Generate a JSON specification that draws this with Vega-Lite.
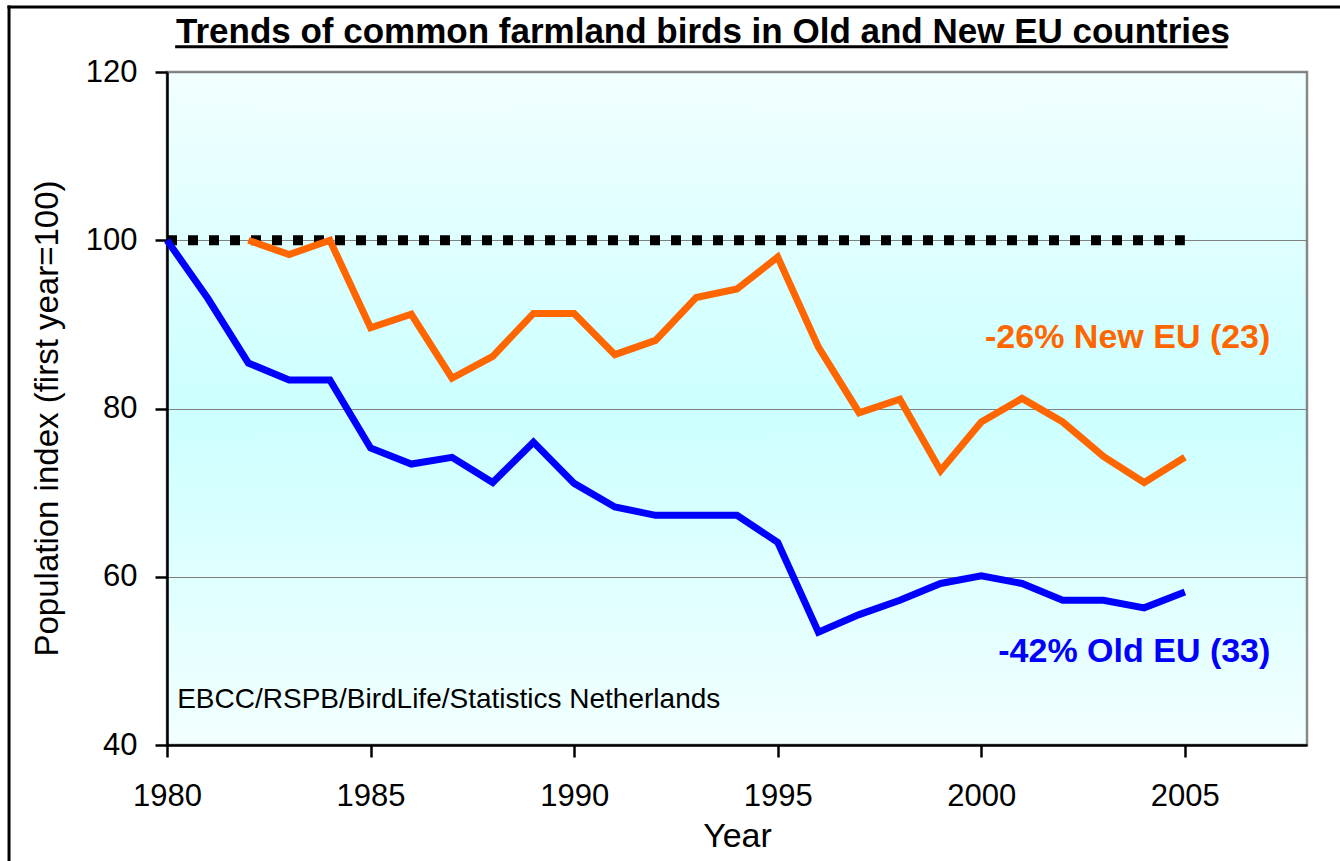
{
  "$schema": "https://vega.github.io/schema/vega-lite/v6.json",
  "width": 1140,
  "height": 673,
  "autosize": {"type": "none"},
  "padding": {"left": 167, "top": 72, "right": 33, "bottom": 116},
  "background": "white",
  "config": {
    "font": "Liberation Sans",
    "view": {"stroke": "#888888", "strokeWidth": 2.5}
  },
  "view": {
    "fill": {
      "gradient": "linear", "x1": 0, "y1": 0, "x2": 0, "y2": 1,
      "stops": [
        {"offset": 0, "color": "#F2FFFF"},
        {"offset": 0.5, "color": "#CCFFFF"},
        {"offset": 1, "color": "#F2FFFF"}
      ]
    },
    "stroke": "#888888",
    "strokeWidth": 2.5
  },
  "title": {
    "text": "Trends of common farmland birds in Old and New EU countries",
    "fontSize": 35,
    "fontWeight": "bold",
    "color": "black",
    "anchor": "middle",
    "dx": -34,
    "offset": -45.5
  },
  "datasets": {
    "birds": [
      {"year": 1980, "index": 100, "series": "Old EU"},
      {"year": 1981, "index": 93.1, "series": "Old EU"},
      {"year": 1982, "index": 85.4, "series": "Old EU"},
      {"year": 1983, "index": 83.4, "series": "Old EU"},
      {"year": 1984, "index": 83.4, "series": "Old EU"},
      {"year": 1985, "index": 75.3, "series": "Old EU"},
      {"year": 1986, "index": 73.4, "series": "Old EU"},
      {"year": 1987, "index": 74.2, "series": "Old EU"},
      {"year": 1988, "index": 71.2, "series": "Old EU"},
      {"year": 1989, "index": 76.0, "series": "Old EU"},
      {"year": 1990, "index": 71.1, "series": "Old EU"},
      {"year": 1991, "index": 68.3, "series": "Old EU"},
      {"year": 1992, "index": 67.3, "series": "Old EU"},
      {"year": 1993, "index": 67.3, "series": "Old EU"},
      {"year": 1994, "index": 67.3, "series": "Old EU"},
      {"year": 1995, "index": 64.1, "series": "Old EU"},
      {"year": 1996, "index": 53.4, "series": "Old EU"},
      {"year": 1997, "index": 55.5, "series": "Old EU"},
      {"year": 1998, "index": 57.2, "series": "Old EU"},
      {"year": 1999, "index": 59.2, "series": "Old EU"},
      {"year": 2000, "index": 60.1, "series": "Old EU"},
      {"year": 2001, "index": 59.2, "series": "Old EU"},
      {"year": 2002, "index": 57.2, "series": "Old EU"},
      {"year": 2003, "index": 57.2, "series": "Old EU"},
      {"year": 2004, "index": 56.3, "series": "Old EU"},
      {"year": 2005, "index": 58.2, "series": "Old EU"},
      {"year": 1982, "index": 100, "series": "New EU"},
      {"year": 1983, "index": 98.3, "series": "New EU"},
      {"year": 1984, "index": 100, "series": "New EU"},
      {"year": 1985, "index": 89.6, "series": "New EU"},
      {"year": 1986, "index": 91.2, "series": "New EU"},
      {"year": 1987, "index": 83.6, "series": "New EU"},
      {"year": 1988, "index": 86.2, "series": "New EU"},
      {"year": 1989, "index": 91.3, "series": "New EU"},
      {"year": 1990, "index": 91.3, "series": "New EU"},
      {"year": 1991, "index": 86.4, "series": "New EU"},
      {"year": 1992, "index": 88.1, "series": "New EU"},
      {"year": 1993, "index": 93.2, "series": "New EU"},
      {"year": 1994, "index": 94.2, "series": "New EU"},
      {"year": 1995, "index": 98.0, "series": "New EU"},
      {"year": 1996, "index": 87.3, "series": "New EU"},
      {"year": 1997, "index": 79.5, "series": "New EU"},
      {"year": 1998, "index": 81.1, "series": "New EU"},
      {"year": 1999, "index": 72.6, "series": "New EU"},
      {"year": 2000, "index": 78.4, "series": "New EU"},
      {"year": 2001, "index": 81.2, "series": "New EU"},
      {"year": 2002, "index": 78.4, "series": "New EU"},
      {"year": 2003, "index": 74.3, "series": "New EU"},
      {"year": 2004, "index": 71.2, "series": "New EU"},
      {"year": 2005, "index": 74.2, "series": "New EU"}
    ],
    "single": [{}]
  },
  "layer": [
    {
      "data": {"name": "single"},
      "mark": {"type": "rule", "color": "black", "strokeWidth": 10, "strokeDash": [10, 11], "strokeCap": "butt"},
      "encoding": {
        "x": {"datum": 1980, "type": "quantitative"},
        "x2": {"datum": 2005},
        "y": {"datum": 100, "type": "quantitative"}
      }
    },
    {
      "data": {"name": "birds"},
      "mark": {"type": "line", "strokeWidth": 7, "strokeJoin": "miter", "strokeCap": "butt"},
      "encoding": {
        "x": {
          "field": "year", "type": "quantitative",
          "scale": {"domain": [1980, 2008], "nice": false, "zero": false},
          "axis": {
            "title": "Year", "values": [1980, 1985, 1990, 1995, 2000, 2005], "format": "d",
            "grid": false, "labelFontSize": 31, "labelColor": "black", "labelPadding": 24,
            "labelFlush": false,
            "tickSize": 12, "tickColor": "black", "tickWidth": 2.5,
            "domainColor": "black", "domainWidth": 2.5,
            "titleFontSize": 34, "titleFontWeight": "normal", "titleColor": "black", "titlePadding": 8
          }
        },
        "y": {
          "field": "index", "type": "quantitative",
          "scale": {"domain": [40, 120], "nice": false, "zero": false},
          "axis": {
            "title": "Population index (first year=100)", "values": [40, 60, 80, 100, 120],
            "grid": true, "gridColor": "#808080", "gridWidth": 1,
            "labelFontSize": 31, "labelColor": "black", "labelPadding": 18,
            "labelFlush": false,
            "tickSize": 12, "tickColor": "black", "tickWidth": 2.5,
            "domainColor": "black", "domainWidth": 2.5,
            "titleFontSize": 33, "titleFontWeight": "normal", "titleColor": "black", "titlePadding": 21,
            "titleY": 346
          }
        },
        "color": {
          "field": "series", "type": "nominal",
          "scale": {"domain": ["Old EU", "New EU"], "range": ["#0000FF", "#FF6600"]},
          "legend": null
        },
        "detail": {"field": "series"}
      }
    },
    {
      "data": {"name": "single"},
      "mark": {"type": "text", "align": "right", "baseline": "middle", "fontSize": 34, "fontWeight": "bold", "color": "#FF6600"},
      "encoding": {
        "x": {"datum": 2007.1, "type": "quantitative"},
        "y": {"datum": 88.4, "type": "quantitative"},
        "text": {"value": "-26% New  EU (23)"}
      }
    },
    {
      "data": {"name": "single"},
      "mark": {"type": "text", "align": "right", "baseline": "middle", "fontSize": 34, "fontWeight": "bold", "color": "#0000FF"},
      "encoding": {
        "x": {"datum": 2007.1, "type": "quantitative"},
        "y": {"datum": 51.0, "type": "quantitative"},
        "text": {"value": "-42% Old EU (33)"}
      }
    },
    {
      "data": {"name": "single"},
      "mark": {"type": "text", "align": "left", "baseline": "middle", "fontSize": 28, "color": "black"},
      "encoding": {
        "x": {"datum": 1980.25, "type": "quantitative"},
        "y": {"datum": 45.3, "type": "quantitative"},
        "text": {"value": "EBCC/RSPB/BirdLife/Statistics Netherlands"}
      }
    },
    {
      "data": {"name": "single"},
      "mark": {"type": "rule", "color": "black", "strokeWidth": 3, "clip": false},
      "encoding": {
        "x": {"datum": 1980.2, "type": "quantitative"},
        "x2": {"datum": 2006.05},
        "y": {"datum": 123.0, "type": "quantitative"}
      }
    },
    {
      "data": {"name": "single"},
      "mark": {"type": "rule", "color": "black", "strokeWidth": 3, "clip": false},
      "encoding": {
        "x": {"datum": 1976.08, "type": "quantitative"},
        "x2": {"datum": 2010},
        "y": {"datum": 127.73, "type": "quantitative"}
      }
    },
    {
      "data": {"name": "single"},
      "mark": {"type": "rule", "color": "black", "strokeWidth": 3, "clip": false},
      "encoding": {
        "x": {"datum": 1976.12, "type": "quantitative"},
        "y": {"datum": 127.9, "type": "quantitative"},
        "y2": {"datum": 24}
      }
    }
  ]
}
